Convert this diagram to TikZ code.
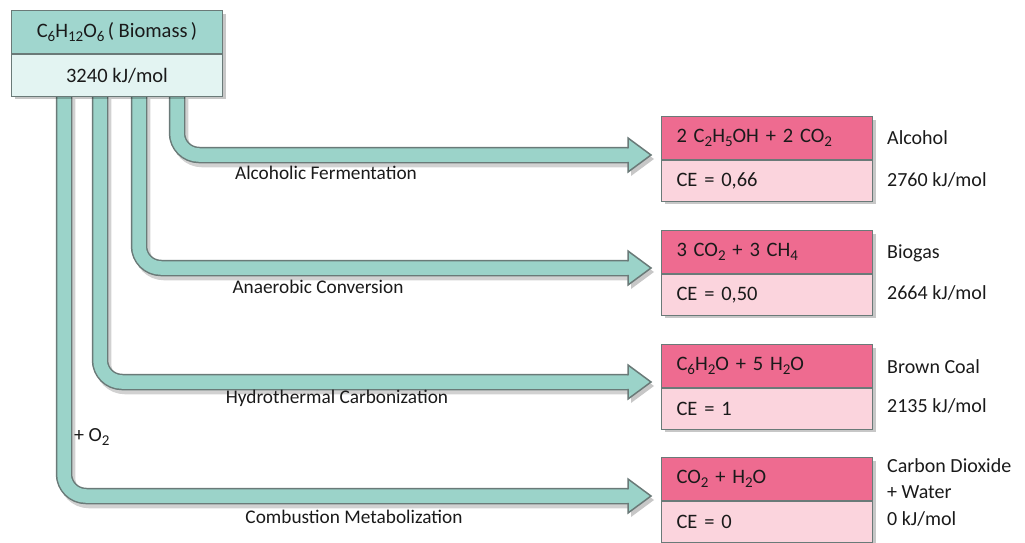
\documentclass[tikz,border=0pt]{standalone}
\usepackage{fontspec}
\setmainfont{Carlito}
\usetikzlibrary{calc}
\definecolor{teal1}{HTML}{A0D6CE}
\definecolor{teal2}{HTML}{E3F4F2}
\definecolor{pipe}{HTML}{9BD3C9}
\definecolor{edge}{HTML}{6A7A78}
\definecolor{pink1}{HTML}{EE6B90}
\definecolor{pink2}{HTML}{FBD4DD}
\definecolor{txt}{HTML}{1A1A1A}
\newcommand\fs{\fontsize{20}{23}\selectfont}
\newcommand\fp{\fontsize{19.3}{23}\selectfont}
\newcommand\fb{\fontsize{20.5}{23}\selectfont}
\newcommand\chs[1]{\raisebox{-0.45ex}{\fontsize{15}{16}\selectfont #1}}
\begin{document}
\begin{tikzpicture}[x=1pt,y=-1pt,
  cell/.style={draw=edge, line width=1pt, minimum width=211pt, inner sep=0pt, font=\fb, text=txt},
  bcell/.style={cell, minimum height=43pt},
  pcell/.style={cell, text width=181pt, inner xsep=15pt, align=left},
  ptop/.style={pcell, fill=pink1, minimum height=43pt},
  pbot/.style={pcell, fill=pink2, minimum height=41pt},
  lbl/.style={font=\fs, text=txt, inner sep=0pt},
  plbl/.style={lbl, font=\fp},
  shade/.style={black, opacity=0.22},
  pipeedge/.style={line width=16.5pt, edge, rounded corners=22pt},
  pipefill/.style={line width=13.5pt, pipe, rounded corners=22pt},
  pipeshade/.style={line width=16.5pt, black, opacity=0.18, rounded corners=22pt},
]
\useasboundingbox (0,0) rectangle (1025,543);

% start and end coordinates of pipes
\coordinate (s1) at (177,95);
\coordinate (s2) at (139,95);
\coordinate (s3) at (100,95);
\coordinate (s4) at (64,95);
\coordinate (e1) at (628,155);
\coordinate (e2) at (628,268);
\coordinate (e3) at (628,382);
\coordinate (e4) at (628,496);

% pipe shadows
\foreach \n in {1,2,3,4}{
  \draw[pipeshade] ([shift={(3,4)}]s\n) |- ([shift={(3,4)}]e\n);
  \fill[shade] ([shift={(3,4)}]e\n) ++(0,-17) -- ++(23,17) -- ++(-23,17) -- cycle;
}
% pipes
\foreach \n in {1,2,3,4}{
  \draw[pipeedge] (s\n) |- (e\n);
  \draw[pipefill] (s\n) |- ([xshift=1]e\n);
  \fill[pipe] (e\n) ++(0,-17) -- ++(23,17) -- ++(-23,17) -- cycle;
  \draw[edge, line width=1.5pt, line join=miter] (e\n) ++(0,-6.75) -- ++(0,-10.25) -- ++(23,17) -- ++(-23,17) -- ++(0,-10.25);
}

% box shadows
\fill[shade] (15,14) rectangle (226,99);
\foreach \t in {116,230,344,457}{
  \fill[shade] (665,\t+4) rectangle (876,\t+88);
}

% biomass box
\node[bcell, fill=teal1, anchor=north west] (bio) at (11,10) {C\chs{6}H\chs{12}O\chs{6}\,( Biomass\,)};
\node[bcell, fill=teal2, minimum height=42pt, anchor=north] (bioE) at (bio.south) {3240 kJ/mol};

% product boxes
\node[ptop, anchor=north west] (p1) at (661,116) {2 C\chs{2}H\chs{5}OH + 2 CO\chs{2}};
\node[pbot, anchor=north] (q1) at (p1.south) {CE = 0,66};
\node[ptop, anchor=north west] (p2) at (661,230) {3 CO\chs{2} + 3 CH\chs{4}};
\node[pbot, anchor=north] (q2) at (p2.south) {CE = 0,50};
\node[ptop, anchor=north west] (p3) at (661,344) {C\chs{6}H\chs{2}O + 5 H\chs{2}O};
\node[pbot, anchor=north] (q3) at (p3.south) {CE = 1};
\node[ptop, anchor=north west] (p4) at (661,457) {CO\chs{2} + H\chs{2}O};
\node[pbot, anchor=north] (q4) at (p4.south) {CE = 0};

% pipe labels
\node[plbl] (l1) at (326,173) {Alcoholic Fermentation};
\node[plbl] (l2) at (318,287) {Anaerobic Conversion};
\node[plbl] (l3) at (337,398) {Hydrothermal Carbonization};
\node[plbl] (l4) at (354,517) {Combustion Metabolization};
\node[lbl, anchor=west] (o2) at (74,437) {+ O\chs{2}};

% right labels
\node[lbl, anchor=west] (r1a) at (887,138) {Alcohol};
\node[lbl, anchor=west] (r1b) at (887,180) {2760 kJ/mol};
\node[lbl, anchor=west] (r2a) at (887,253) {Biogas};
\node[lbl, anchor=west] (r2b) at (887,293) {2664 kJ/mol};
\node[lbl, anchor=west] (r3a) at (887,367) {Brown Coal};
\node[lbl, anchor=west] (r3b) at (887,406) {2135 kJ/mol};
\node[lbl, anchor=west] (r4a) at (887,466) {Carbon Dioxide};
\node[lbl, anchor=west] (r4b) at (887,492) {+ Water};
\node[lbl, anchor=west] (r4c) at (887,519) {0 kJ/mol};
\end{tikzpicture}
\end{document}
